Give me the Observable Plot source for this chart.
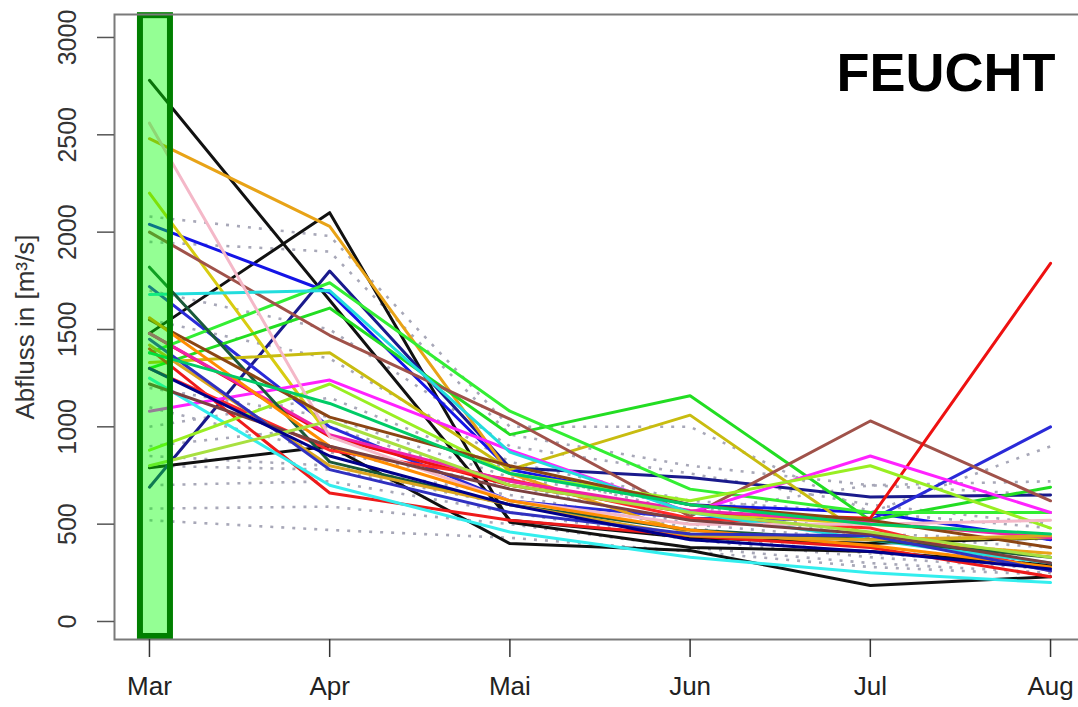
<!DOCTYPE html>
<html>
<head>
<meta charset="utf-8">
<script src="https://cdn.jsdelivr.net/npm/d3@7"></script>
<script src="https://cdn.jsdelivr.net/npm/@observablehq/plot@0.6"></script>
<style>
  html, body { margin: 0; padding: 0; background: #fff; overflow: hidden; }
  #chart svg { display: block; }
</style>
</head>
<body>
<div id="chart"></div>
<script>
// Month categories (x positions 1..6) and tick labels
const months = ["Mar", "Apr", "Mai", "Jun", "Jul", "Aug"];
const yTicks = [0, 500, 1000, 1500, 2000, 2500, 3000];
const yTitle = "Abfluss in [m³/s]";
const label = "FEUCHT";

// Solid (coloured) series: discharge values Mar..Aug
const solidValues = [
  [2780, 1650, 520, 430, 400, 430],
  [1480, 2100, 510, 380, 360, 290],
  [790, 900, 400, 365, 185, 230],
  [690, 1800, 790, 740, 640, 650],
  [2040, 1690, 780, 600, 560, 420],
  [1720, 1000, 620, 530, 520, 1000],
  [2480, 2030, 760, 450, 420, 350],
  [2200, 950, 720, 560, 500, 440],
  [1330, 1380, 780, 1060, 420, 430],
  [1300, 1610, 960, 1160, 520, 690],
  [1380, 1740, 1080, 680, 560, 560],
  [2000, 1470, 1040, 540, 1030, 620],
  [1480, 950, 700, 560, 530, 1840],
  [1400, 660, 520, 440, 380, 230],
  [1300, 880, 730, 530, 480, 260],
  [1080, 1240, 880, 560, 850, 560],
  [1480, 960, 720, 570, 510, 430],
  [1680, 1700, 870, 560, 420, 300],
  [1250, 700, 460, 330, 250, 200],
  [880, 1220, 760, 620, 800, 480],
  [2560, 950, 620, 500, 500, 520],
  [1820, 820, 600, 470, 420, 330],
  [1550, 1050, 800, 600, 520, 380],
  [1560, 900, 620, 470, 390, 280],
  [1420, 800, 600, 440, 420, 440],
  [1450, 780, 560, 450, 440, 260],
  [1380, 1120, 760, 600, 500, 450],
  [1220, 900, 680, 520, 450, 300],
  [800, 1030, 700, 560, 460, 330],
  [1300, 850, 600, 420, 360, 270]
];
const solidColors = [
  "#111111", "#111111", "#111111", "#1a1a8c", "#1414e6", "#2a2ad8",
  "#e8a317", "#d8cc10", "#c8bc10", "#22dd22", "#33ee33", "#a0524a",
  "#ee1111", "#ee1a1a", "#ff2a2a", "#ff22ff", "#ee22aa", "#22dddd",
  "#33eeee", "#99ee22", "#f4b8c8", "#1a5a3a", "#8b4513", "#ff8c00",
  "#daa520", "#3030c0", "#00cc66", "#7b3f3f", "#a8e040", "#00008b"
];

// Dotted grey series: discharge values Mar..Aug
const dottedValues = [
  [2080, 1980, 1000, 1000, 560, 900],
  [1950, 1900, 960, 800, 700, 720],
  [1700, 1500, 900, 760, 600, 500],
  [1550, 1350, 820, 620, 560, 480],
  [1000, 1150, 780, 560, 440, 380],
  [900, 1000, 700, 500, 420, 350],
  [850, 800, 650, 480, 380, 300],
  [800, 780, 600, 440, 350, 290],
  [700, 720, 560, 420, 330, 270],
  [580, 590, 500, 380, 300, 250],
  [520, 470, 430, 360, 280, 240],
  [1100, 870, 700, 560, 700, 650],
  [1200, 1050, 740, 600, 450, 420]
];

// Highlight band around March
const highlightX = [0.95, 1.1165];
const highlightY = [-77, 3112];

const toRows = (vals, prefix) => vals.flatMap((s, i) =>
  s.map((v, j) => ({series: prefix + i, idx: i, x: j + 1, y: v})));
const solidRows = toRows(solidValues, "s");
const dottedRows = toRows(dottedValues, "d");

const chart = Plot.plot({
  width: 1078,
  height: 707,
  marginLeft: 114,
  marginRight: -7,
  marginTop: 14,
  marginBottom: 68,
  style: {background: "#fff", fontFamily: "'Liberation Sans', Arial, Helvetica, sans-serif", overflow: "hidden"},
  x: {domain: [0.806, 6.194], axis: null},
  y: {domain: [-92.5, 3118], axis: null},
  marks: [
    Plot.line(dottedRows, {x: "x", y: "y", z: "series", stroke: "#a8a8b8", strokeWidth: 2.6,
      strokeDasharray: "3,8", strokeLinecap: "butt"}),
    Plot.line(solidRows, {x: "x", y: "y", z: "series", stroke: d => solidColors[d.idx],
      strokeWidth: 3, strokeLinejoin: "round"}),
    Plot.rect([0], {x1: () => highlightX[0], x2: () => highlightX[1], y1: () => highlightY[0], y2: () => highlightY[1],
      fill: "#00ff00", fillOpacity: 0.42, stroke: "#008000", strokeWidth: 6}),
    Plot.frame({stroke: "#7a7a7a", strokeWidth: 2}),
    Plot.axisX({ticks: [1, 2, 3, 4, 5, 6], tickFormat: d => months[d - 1], tickSize: 18, tickPadding: 19,
      fontSize: 26, stroke: "#333", color: "#222", strokeWidth: 1.5, label: null}),
    Plot.axisY({ticks: yTicks, tickSize: 17, tickFormat: () => "", stroke: "#555", strokeWidth: 1.5, label: null}),
    Plot.text(yTicks, {y: d => d, text: d => String(d), frameAnchor: "left", dx: -47, rotate: -90,
      textAnchor: "middle", lineAnchor: "middle", fontSize: 25, fill: "#333"}),
    Plot.text([yTitle], {text: d => d, frameAnchor: "left", dx: -89, rotate: -90,
      textAnchor: "middle", lineAnchor: "middle", fontSize: 26, fill: "#333"}),
    Plot.text([label], {text: d => d, frameAnchor: "top-right", dx: -30, dy: 38,
      textAnchor: "end", lineAnchor: "top", fontSize: 54, fontWeight: "bold", fill: "#000"})
  ]
});
document.getElementById("chart").appendChild(chart);
</script>
</body>
</html>
